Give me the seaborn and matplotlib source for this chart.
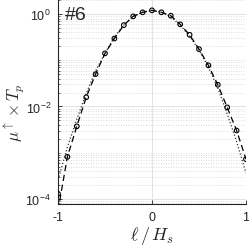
import numpy as np
import pandas as pd
import seaborn as sns
import matplotlib.pyplot as plt
from matplotlib.ticker import LogLocator, FixedLocator, NullFormatter

# --- data ---
ell = [-1.0, -0.9, -0.8, -0.7, -0.6, -0.5, -0.4, -0.3, -0.2, -0.1, 0.0,
       0.1, 0.2, 0.3, 0.4, 0.5, 0.6, 0.7, 0.8, 0.9, 1.0]

# measured points (circles)
mu_obs = [1.29e-4, 8.13e-4, 3.72e-3, 0.0158, 0.0501, 0.141, 0.295, 0.575, 0.891, 1.089, 1.202,
          1.089, 0.918, 0.597, 0.355, 0.174, 0.0776, 0.0295, 0.00955, 0.00302, 7.24e-4]

# dashed curve
mu_dash = [5.6e-5, 8.13e-4, 3.72e-3, 0.0158, 0.0501, 0.141, 0.295, 0.575, 0.891, 1.089, 1.202,
           1.089, 0.918, 0.597, 0.355, 0.174, 0.0776, 0.0295, 0.00955, 0.00302, 7.24e-4]

# dotted curve
mu_dot = [2.57e-4, 1.32e-3, 5.25e-3, 0.0191, 0.0589, 0.141, 0.316, 0.575, 0.891, 1.096, 1.202,
          1.096, 0.871, 0.575, 0.331, 0.166, 0.0708, 0.0251, 0.00692, 0.00174, 3.63e-4]

panel = "#6"

df = pd.DataFrame({"ell": ell, "obs": mu_obs, "dash": mu_dash, "dot": mu_dot})

sns.set_style("white")
plt.rcParams["font.family"] = ["Liberation Sans", "DejaVu Sans"]
plt.rcParams["mathtext.fontset"] = "cm"

fig = plt.figure(figsize=(2.49, 2.51), dpi=100)
ax = fig.add_axes([58 / 249, 1 - 205 / 251, 188 / 249, 205 / 251])

sns.lineplot(data=df, x="ell", y="dot", ax=ax, color="#333333", linestyle=":",
             linewidth=0.9, sort=False, estimator=None)
sns.lineplot(data=df, x="ell", y="dash", ax=ax, color="black", linewidth=0.9,
             sort=False, estimator=None, dashes=False)
ax.lines[-1].set_dashes([5, 3])
sns.scatterplot(data=df, x="ell", y="obs", ax=ax, marker="o", s=11,
                facecolor="none", edgecolor="black", linewidth=0.8, zorder=5)

ax.set_yscale("log")
ax.set_xlim(-1, 1)
ax.set_ylim(10 ** -4.11, 10 ** 0.325)

ax.xaxis.set_major_locator(FixedLocator([-1, 0, 1]))
ax.set_xticklabels(["-1", "0", "1"])
ax.yaxis.set_major_locator(FixedLocator([1e-4, 1e-2, 1e0]))
ax.yaxis.set_minor_locator(LogLocator(base=10, subs=np.arange(1, 10), numticks=20))
ax.yaxis.set_minor_formatter(NullFormatter())

ax.grid(True, which="major", color="#e3e3e3", linewidth=0.7, linestyle="-")
ax.grid(True, which="minor", axis="y", color="#d0d0d0", linewidth=0.6, linestyle=(0, (1, 2)))
ax.set_axisbelow(True)

for s in ["top", "right"]:
    ax.spines[s].set_visible(False)
for s in ["left", "bottom"]:
    ax.spines[s].set_color("#262626")
    ax.spines[s].set_linewidth(0.8)

ax.tick_params(axis="both", which="major", direction="in", length=3, width=0.6,
               labelsize=9, colors="#262626", left=True, bottom=True, pad=5)
ax.tick_params(axis="y", which="minor", direction="in", length=1.5, width=0.5, left=True)

ax.set_xlabel(r"$\ell\,/\,H_s$", fontsize=13, labelpad=1)
ax.set_ylabel(r"$\mu^{\uparrow} \times T_p$", fontsize=12)
ax.yaxis.set_label_coords(-0.165, 0.45)

ax.text(0.035, 0.965, panel, transform=ax.transAxes, fontsize=14, va="top", ha="left")

fig.savefig("out.png", dpi=100)
